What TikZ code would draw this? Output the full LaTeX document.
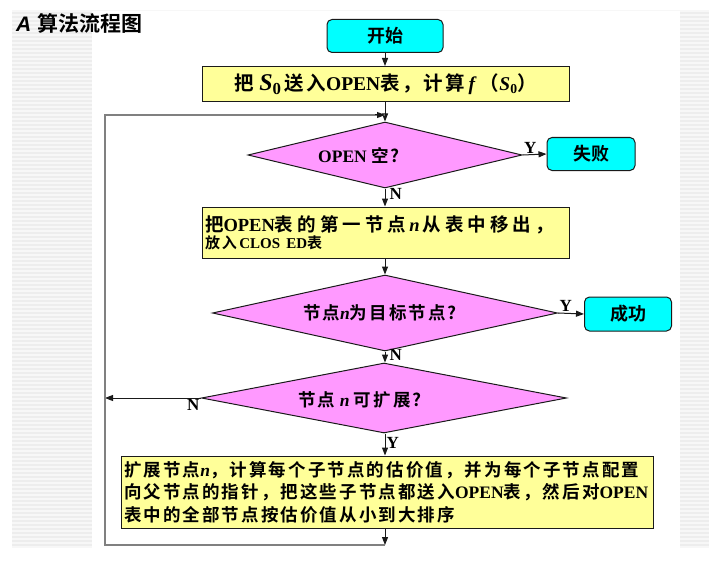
\documentclass[tikz,border=0pt]{standalone}
\usepackage{fontspec}
\setmainfont{Liberation Serif}
\newfontfamily\cjk[BoldFont={* Bold},LetterSpace=12]{Noto Sans CJK SC}
\newfontfamily\cjkw[BoldFont={* Bold},LetterSpace=22]{Noto Sans CJK SC}
\newfontfamily\cjktitle[BoldFont={* Bold}]{Noto Sans CJK SC}
\newfontfamily\arial{Liberation Sans}
\usetikzlibrary{shapes.geometric,arrows.meta}
\usepackage{xcolor}
\definecolor{kcyan}{HTML}{00FFFF}
\definecolor{kyel}{HTML}{FFFF99}
\definecolor{kpink}{HTML}{FF99FF}
\definecolor{kline}{HTML}{1A1A1A}
\definecolor{kloop}{HTML}{808080}
\definecolor{kstripe}{HTML}{EDEDED}
\definecolor{kband}{HTML}{F7F7F7}

\newcommand{\zh}[1]{{\cjk #1}}
\newcommand{\zhw}[1]{{\cjkw #1}}

\tikzset{
  termbox/.style={draw=kline, fill=kcyan, rounded corners=5pt, line width=1pt,
    inner sep=0pt, font=\cjktitle\bfseries\fontsize{18}{20}\selectfont},
  procbox/.style={draw=kline, fill=kyel, line width=1pt, inner sep=0pt,
    font=\bfseries\fontsize{18.5}{21}\selectfont},
  testbox/.style={diamond, draw=kline, fill=kpink, line width=1pt, inner sep=0pt},
  testtext/.style={font=\bfseries\fontsize{17.5}{18}\selectfont, inner sep=0pt},
  yn/.style={font=\bfseries\fontsize{17}{17}\selectfont, inner sep=1pt},
  arr/.style={draw=kline, line width=1pt, -{Triangle[length=8pt,width=6pt]}},
  loopline/.style={draw=kloop, line width=1.3pt},
}

\begin{document}
\begin{tikzpicture}[x=1pt,y=-1pt]
  \useasboundingbox (0,0) rectangle (709,567);

  % striped page margins
  \fill[kband] (12,10) rectangle (92,548);
  \fill[kband] (680,10) rectangle (709,548);
  \foreach \y in {13,17,...,546} {
    \draw[kstripe,line width=1.6pt] (12,\y) -- (92,\y);
    \draw[kstripe,line width=1.6pt] (680,\y) -- (709,\y);
  }
  \draw[kband,line width=1pt] (92,11) -- (680,11);

  % title
  \node[anchor=west,inner sep=0pt] (title) at (16,23)
    {\fontsize{21}{22}\selectfont\arial\bfseries\itshape A\ \cjktitle\upshape 算法流程图};

  % start and first box
  \node[termbox,minimum width=116,minimum height=33] (start) at (385,36) {开始};
  \node[procbox,minimum width=367,minimum height=35,font=\bfseries\fontsize{19.5}{21}\selectfont] (s0) at (386,84)
    {\zh{把}\ {\fontsize{24}{24}\selectfont\textit{S}\textsubscript{0}}\,\zh{送入}OPEN\zh{表，计算}\,\textit{f}\,\zh{（}\textit{S}\textsubscript{0}\zh{）}};

  % test: OPEN empty
  \node[testbox,minimum width=274,minimum height=66] (d1) at (385,155) {};
  \node[testtext] (d1t) at (359,155) {OPEN \zh{空?}};
  \node[termbox,minimum width=88,minimum height=33] (fail) at (591,154) {失败};

  % move node n to CLOSED
  \node[procbox,minimum width=367,minimum height=51,text width=362,align=left] (move) at (386,232.5)
    {\zhw{把}OPEN\zhw{表的第一节点}\,\textit{n}\,\zhw{从表中移出，}\\[-4pt]
     {\fontsize{15}{16}\selectfont\zh{放入}\,CLOS ED\zh{表}}};

  % test: goal
  \node[testbox,minimum width=345,minimum height=76] (d2) at (385,313) {};
  \node[testtext] (d2t) at (380,313) {\zh{节点}\textit{n}\zh{为目标节点?}};
  \node[termbox,minimum width=87,minimum height=34] (done) at (628,314) {成功};

  % test: expandable
  \node[testbox,minimum width=365,minimum height=70] (d3) at (384,398) {};
  \node[testtext] (d3t) at (360,400) {\zh{节点}\ \textit{n}\ \zh{可扩展?}};

  % expand box
  \node[procbox,minimum width=532,minimum height=72,text width=526,align=left,
        font=\bfseries\fontsize{17.5}{22.5}\selectfont] (expand) at (387,492)
    {\zh{扩展节点}\textit{n}\zh{，计算每个子节点的估价值，并为每个子节点配置}\\
     \zh{向父节点的指针，把这些子节点都送入}OPEN\zh{表，然后对}OPEN\\
     \zh{表中的全部节点按估价值从小到大排序}};

  % loop corners
  \coordinate (top) at (385,115);
  \coordinate (tl) at (105,115);
  \coordinate (bl) at (105,545);
  \coordinate (bot) at (385,545);

  % connectors
  \draw[arr] (start) -- (start |- s0.north);
  \draw[arr] (s0.south -| d1.north) -- (d1.north);
  \draw[arr] (d1.east) -- (fail.west) node[yn,pos=0,above right] {Y};
  \draw[arr] (d1.south) -- (d1.south |- move.north) node[yn,pos=0.3,right,xshift=3pt] {N};
  \draw[arr] (move.south -| d2.north) -- (d2.north);
  \draw[arr] (d2.east) -- (done.west) node[yn,pos=0,above right] {Y};
  \draw[arr] (d2.south) -- (d2.south |- d3.north) node[yn,pos=0.3,right,xshift=3pt] {N};
  \draw[arr] (d3.south -| bot) -- (bot |- expand.north) node[yn,pos=0.45,right] {Y};
  \draw[arr] (d3.west) -- (d3.west -| tl) node[yn,pos=0,below left] {N};
  \draw[arr] (expand.south -| bot) -- (bot);
  \draw[loopline] (bot) -- (bl) -- (tl) -- (top);
  \draw[arr] ([xshift=-10pt]top) -- (top);
\end{tikzpicture}
\end{document}
